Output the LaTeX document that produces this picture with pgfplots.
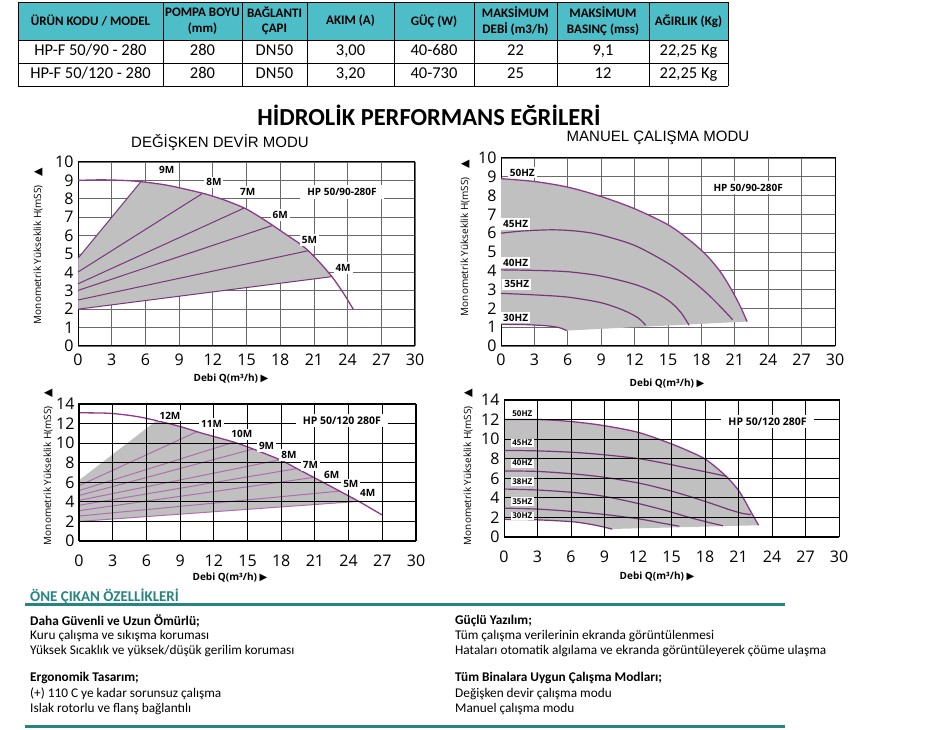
\documentclass[border=0pt]{standalone}
\usepackage{fontspec}
\setmainfont{Carlito}
\newfontfamily\os{Open Sans}
\newfontfamily\dv{DejaVu Sans}
\newfontfamily\ls{Liberation Sans}
\usepackage{pgfplots}
\pgfplotsset{compat=1.18}
\definecolor{hdr}{RGB}{77,190,200}
\definecolor{teal2}{RGB}{38,132,130}
\definecolor{pcurve}{RGB}{140,58,140}
\definecolor{pline}{RGB}{120,55,120}
\definecolor{plight}{RGB}{175,110,175}
\definecolor{gfill}{RGB}{192,192,192}
\definecolor{gridc}{RGB}{105,105,105}
\pgfplotsset{
  base/.style={scale only axis, clip=false, xmin=0, xmax=30, xtick={0,3,...,30},
    grid=major, major tick length=0pt,
    /pgf/number format/assume math mode=true,
    tick label style={font=\os\fontsize{16}{16}\selectfont, text height=11.5pt, text depth=0pt},
    yticklabel style={xshift=-1pt},
    axis line style={line width=1pt}},
  topp/.style={base, ymin=0, ymax=10, ytick={0,...,10}, xticklabel style={yshift=-4pt}, major grid style={gridc, line width=0.7pt}},
  botp/.style={base, ymin=0, ymax=14, ytick={0,2,...,14}, xticklabel style={yshift=-10pt}, axis on top, major grid style={black, line width=0.9pt}},
}
\tikzset{
  lab/.style={fill=white, inner sep=2pt, font=\os\bfseries\fontsize{10}{10}\selectfont},
  labs/.style={fill=white, inner sep=1.5pt, font=\os\bfseries\fontsize{8}{8}\selectfont},
  hp/.style={fill=white, inner xsep=7pt, inner ysep=3pt, font=\os\bfseries\fontsize{10.5}{10.5}\selectfont},
  ylab/.style={rotate=90, font=\os\fontsize{10}{10}\selectfont},
  xlab/.style={font=\os\bfseries\fontsize{10}{10}\selectfont},
  th/.style={align=center, font=\bfseries\fontsize{13}{15.5}\selectfont},
  tb/.style={font=\fontsize{16.5}{16.5}\selectfont, text height=11pt, text depth=3pt},
  ft/.style={anchor=west, font=\fontsize{13.3}{13.3}\selectfont, inner sep=0pt},
  fb/.style={anchor=west, font=\bfseries\fontsize{13.3}{13.3}\selectfont, inner sep=0pt},
}
\newcommand{\ytext}{Monometrik Yükseklik H(mSS)\hspace{9pt}{\dv\fontsize{11}{11}\selectfont ▲}}
\newcommand{\xtext}{Debi Q(m³/h) {\dv ▶}}
\begin{document}
\begin{tikzpicture}[x=1pt,y=1pt]
\useasboundingbox (0,0) rectangle (938,729);
\fill[white] (0,0) rectangle (938,729);
% ---------- table ----------
\fill[hdr] (18,689) rectangle (728,727);
\foreach \x in {18,163,242,307,394,474,557,649,728} \draw[line width=0.8pt] (\x,643) -- (\x,727);
\foreach \y in {727,689,666,643} \draw[line width=0.8pt] (18,\y) -- (728,\y);
\node[th] at (90.5,708) {ÜRÜN KODU / MODEL};
\node[th] at (202.5,708) {POMPA BOYU\\(mm)};
\node[th] at (274.5,708) {BAĞLANTI\\ÇAPI};
\node[th] at (350.5,708) {AKIM (A)};
\node[th] at (434,708) {GÜÇ (W)};
\node[th] at (515.5,708) {MAKSİMUM\\DEBİ (m3/h)};
\node[th] at (603,708) {MAKSİMUM\\BASINÇ (mss)};
\node[th] at (688.5,708) {AĞIRLIK (Kg)};
\node[tb] at (90.5,677.5) {HP-F 50/90 - 280};
\node[tb] at (202.5,677.5) {280};
\node[tb] at (274.5,677.5) {DN50};
\node[tb] at (350.5,677.5) {3,00};
\node[tb] at (434,677.5) {40-680};
\node[tb] at (515.5,677.5) {22};
\node[tb] at (603,677.5) {9,1};
\node[tb] at (688.5,677.5) {22,25 Kg};
\node[tb] at (90.5,654.5) {HP-F 50/120 - 280};
\node[tb] at (202.5,654.5) {280};
\node[tb] at (274.5,654.5) {DN50};
\node[tb] at (350.5,654.5) {3,20};
\node[tb] at (434,654.5) {40-730};
\node[tb] at (515.5,654.5) {25};
\node[tb] at (603,654.5) {12};
\node[tb] at (688.5,654.5) {22,25 Kg};
% ---------- titles ----------
\node[font=\bfseries\fontsize{24.5}{24.5}\selectfont] at (429,614) {HİDROLİK PERFORMANS EĞRİLERİ};
\node[font=\ls\fontsize{15}{15}\selectfont] at (220,586) {DEĞİŞKEN DEVİR MODU};
\node[font=\ls\fontsize{15}{15}\selectfont] at (658,591) {MANUEL ÇALIŞMA MODU};
% ---------- plot 1 ----------
\begin{axis}[topp, at={(78pt,383pt)}, anchor=south west, width=337pt, height=184pt]
\addplot[fill=gfill, draw=none] coordinates {(0,2.0) (0,4.77) (5.6,8.93) (8,8.73) (11.1,8.30) (13,7.94) (14.8,7.50) (16,7.08) (17.3,6.57) (18.5,6.07) (19.6,5.62) (20.5,5.18) (21.5,4.55) (22.6,3.77)} -- cycle;
\addplot[gfill!70!pline, line width=0.8pt] coordinates {(0,2.0) (0,4.77)};
\addplot[pline, line width=1pt] coordinates {(0,4.77) (5.6,8.93)};
\addplot[pline, line width=1pt] coordinates {(0,4.02) (11.1,8.30)};
\addplot[pline, line width=1pt] coordinates {(0,3.38) (14.8,7.50)};
\addplot[pline, line width=1pt] coordinates {(0,3.02) (17.3,6.55)};
\addplot[pline, line width=1pt] coordinates {(0,2.50) (20.5,5.18)};
\addplot[pline, line width=1pt] coordinates {(0,2.00) (22.6,3.77)};
\addplot[pcurve, line width=1.3pt, smooth] coordinates {(0,9.00) (2,9.03) (4,9.00) (5.6,8.93) (8,8.73) (11.1,8.30) (13,7.94) (14.8,7.50) (16,7.08) (17.3,6.57) (18.5,6.07) (19.6,5.62) (20.5,5.18) (21.5,4.55) (22.6,3.77) (23.6,2.90) (24.5,2.00)};
\coordinate (a1) at (axis cs:7.9,9.57);
\coordinate (a2) at (axis cs:12.1,8.9);
\coordinate (a3) at (axis cs:15.1,8.37);
\coordinate (a4) at (axis cs:18.0,7.12);
\coordinate (a5) at (axis cs:20.6,5.76);
\coordinate (a6) at (axis cs:23.6,4.24);
\coordinate (a7) at (axis cs:23.5,8.37);
\end{axis}
\node[lab] at (a1) {9M};
\node[lab] at (a2) {8M};
\node[lab] at (a3) {7M};
\node[lab] at (a4) {6M};
\node[lab] at (a5) {5M};
\node[lab] at (a6) {4M};
\node[hp,font=\os\bfseries\fontsize{10}{10}\selectfont] at (a7) {HP 50/90-280F};
\node[ylab] at (38,483) {\ytext};
\node[xlab] at (231,350) {\xtext};
% ---------- plot 2 ----------
\begin{axis}[topp, at={(501pt,383pt)}, anchor=south west, width=334pt, height=188pt]
\addplot[fill=gfill, draw=none] coordinates {(0,1.15) (0,8.9) (3,8.75) (6,8.45) (9,7.95) (12,7.3) (15,6.45) (17,5.6) (18.5,4.8) (19.7,3.95) (20.7,3.0) (21.5,2.1) (22.1,1.3) (5.9,0.82) (5.2,0.98) (4,1.08) (2,1.14)} -- cycle;
\addplot[pcurve, line width=1.3pt, smooth] coordinates {(0,8.9) (3,8.75) (6,8.45) (9,7.95) (12,7.3) (15,6.45) (17,5.6) (18.5,4.8) (19.7,3.95) (20.7,3.0) (21.5,2.1) (22.1,1.3)};
\addplot[pline, line width=1.2pt, smooth] coordinates {(0,6.0) (2,6.12) (4.7,6.18) (7,6.1) (9,5.9) (12,5.35) (15,4.4) (17,3.55) (18.5,2.8) (19.7,2.1) (20.8,1.4)};
\addplot[pline, line width=1.2pt, smooth] coordinates {(0,4.05) (3,4.02) (6,3.95) (9,3.72) (12,3.28) (14,2.8) (15.3,2.3) (16.2,1.75) (16.9,1.1)};
\addplot[pline, line width=1.2pt, smooth] coordinates {(0,2.8) (3,2.72) (6,2.6) (9,2.3) (11,1.9) (12.3,1.5) (13.0,1.1)};
\addplot[pline, line width=1.2pt, smooth] coordinates {(0,1.15) (2,1.14) (4,1.08) (5.2,0.98) (5.9,0.82)};
\coordinate (b1) at (axis cs:0.6,9.22);
\coordinate (b2) at (axis cs:0,6.49);
\coordinate (b3) at (axis cs:0,4.43);
\coordinate (b4) at (axis cs:0.1,3.28);
\coordinate (b5) at (axis cs:0,1.5);
\coordinate (b7) at (axis cs:22.2,8.42);
\end{axis}
\node[lab,anchor=west] at (b1) {50HZ};
\node[lab,anchor=west] at (b2) {45HZ};
\node[lab,anchor=west] at (b3) {40HZ};
\node[lab,anchor=west] at (b4) {35HZ};
\node[lab,anchor=west] at (b5) {30HZ};
\node[hp,font=\os\bfseries\fontsize{10}{10}\selectfont] at (b7) {HP 50/90-280F};
\node[ylab] at (465,491) {\ytext};
\node[xlab] at (667,345) {\xtext};
% ---------- plot 3 ----------
\begin{axis}[botp, at={(79pt,188pt)}, anchor=south west, width=337pt, height=137pt]
\addplot[fill=gfill, draw=none] coordinates {(0,2.0) (0,6.2) (6.9,12.3) (9,11.7) (11,11.0) (13.8,10.1) (15.5,9.4) (17.9,8.3) (19.4,7.4) (20.9,6.5) (23.2,5.1) (24.9,4.05)} -- cycle;
\addplot[plight, line width=1pt] coordinates {(0,5.65) (10.5,11.17)};
\addplot[plight, line width=1pt] coordinates {(0,5.15) (13.8,10.1)};
\addplot[plight, line width=1pt] coordinates {(0,4.65) (15.5,9.4)};
\addplot[plight, line width=1pt] coordinates {(0,4.15) (17.9,8.3)};
\addplot[plight, line width=1pt] coordinates {(0,3.65) (19.4,7.4)};
\addplot[plight, line width=1pt] coordinates {(0,3.10) (20.9,6.5)};
\addplot[plight, line width=1pt] coordinates {(0,2.55) (23.2,5.1)};
\addplot[plight, line width=1pt] coordinates {(0,2.0) (24.9,4.05)};
\addplot[pcurve, line width=1.3pt, smooth] coordinates {(0,13.1) (2.7,13.05) (5,12.75) (6.9,12.3) (9,11.7) (11,11.0) (13.8,10.1) (15.5,9.4) (17.9,8.3) (19.4,7.4) (20.9,6.5) (23.2,5.1) (24.9,4.05) (27.0,2.65)};
\coordinate (c1) at (axis cs:8.1,12.8);
\coordinate (c2) at (axis cs:11.8,12.0);
\coordinate (c3) at (axis cs:14.5,10.9);
\coordinate (c4) at (axis cs:16.7,9.7);
\coordinate (c5) at (axis cs:18.7,8.8);
\coordinate (c6) at (axis cs:20.6,7.75);
\coordinate (c7) at (axis cs:22.5,6.7);
\coordinate (c8) at (axis cs:24.2,5.8);
\coordinate (c9) at (axis cs:25.7,4.95);
\coordinate (c10) at (axis cs:23.4,12.3);
\end{axis}
\node[lab] at (c1) {12M};
\node[lab] at (c2) {11M};
\node[lab] at (c3) {10M};
\node[lab] at (c4) {9M};
\node[lab] at (c5) {8M};
\node[lab] at (c6) {7M};
\node[lab] at (c7) {6M};
\node[lab] at (c8) {5M};
\node[lab] at (c9) {4M};
\node[hp] at (c10) {HP 50/120 280F};
\node[ylab] at (48,262) {\ytext};
\node[xlab] at (230,151) {\xtext};
% ---------- plot 4 ----------
\begin{axis}[botp, at={(504pt,192pt)}, anchor=south west, width=335pt, height=137pt]
\addplot[fill=gfill, draw=none] coordinates {(0,1.8) (0,12.0) (3.2,12.0) (6,11.8) (8.85,11.4) (12,10.7) (14.8,9.6) (16.5,8.8) (18.1,7.9) (19.9,6.2) (21.1,4.6) (22.1,2.6) (22.8,1.2) (9.7,0.82) (8.2,1.2) (6.2,1.55) (3,1.75)} -- cycle;
\addplot[pcurve, line width=1.3pt, smooth] coordinates {(0,12.0) (3.2,12.0) (6,11.8) (8.85,11.4) (12,10.7) (14.8,9.6) (16.5,8.8) (18.1,7.9) (19.9,6.2) (21.1,4.6) (22.1,2.6) (22.8,1.2)};
\addplot[pline, line width=1.2pt, smooth] coordinates {(0,8.85) (3,8.8) (6.2,8.65) (9,8.4) (12.1,8.0) (14.5,7.5) (16.6,7.0) (18.5,6.55) (19.9,6.2)};
\addplot[pline, line width=1.2pt, smooth] coordinates {(0,6.75) (3,6.7) (6.2,6.45) (9,6.1) (12.1,5.5) (14.5,4.85) (16.6,4.15) (18.5,3.45) (20.3,2.75) (21.4,2.4) (22.1,2.3)};
\addplot[pline, line width=1.2pt, smooth] coordinates {(0,4.9) (3,4.8) (6.2,4.55) (9,4.15) (12.1,3.4) (14.5,2.7) (16.6,2.0) (18.3,1.5) (19.6,1.15)};
\addplot[pline, line width=1.2pt, smooth] coordinates {(0,2.95) (3,2.85) (6.2,2.6) (9,2.3) (12.1,1.85) (14,1.45) (15.7,1.1)};
\addplot[pline, line width=1.2pt, smooth] coordinates {(0,1.8) (3,1.75) (6.2,1.55) (8.2,1.2) (9.7,0.8)};
\coordinate (d1) at (axis cs:0.6,12.57);
\coordinate (d2) at (axis cs:0.6,9.6);
\coordinate (d3) at (axis cs:0.6,7.55);
\coordinate (d4) at (axis cs:0.6,5.67);
\coordinate (d5) at (axis cs:0.6,3.62);
\coordinate (d6) at (axis cs:0.6,2.15);
\coordinate (d7) at (axis cs:23.6,11.8);
\end{axis}
\node[labs,anchor=west] at (d1) {50HZ};
\node[labs,anchor=west] at (d2) {45HZ};
\node[labs,anchor=west] at (d3) {40HZ};
\node[labs,anchor=west] at (d4) {38HZ};
\node[labs,anchor=west] at (d5) {35HZ};
\node[labs,anchor=west] at (d6) {30HZ};
\node[hp] at (d7) {HP 50/120 280F};
\node[ylab] at (468,262) {\ytext};
\node[xlab] at (657,152) {\xtext};
% ---------- features ----------
\node[anchor=west, inner sep=0pt, text=teal2, font=\bfseries\fontsize{15}{15}\selectfont] at (30,133) {ÖNE ÇIKAN ÖZELLİKLERİ};
\draw[teal2, line width=3pt] (25,124) -- (785,124);
\draw[teal2, line width=3pt] (25,2.5) -- (785,2.5);
\node[fb] at (30,108) {Daha Güvenli ve Uzun Ömürlü;};
\node[ft] at (30,93) {Kuru çalışma ve sıkışma koruması};
\node[ft] at (30,78) {Yüksek Sıcaklık ve yüksek/düşük gerilim koruması};
\node[fb] at (30,51) {Ergonomik Tasarım;};
\node[ft] at (30,35) {(+) 110 C ye kadar sorunsuz çalışma};
\node[ft] at (30,20) {Islak rotorlu ve flanş bağlantılı};
\node[fb] at (455,108) {Güçlü Yazılım;};
\node[ft] at (455,93) {Tüm çalışma verilerinin ekranda görüntülenmesi};
\node[ft] at (455,78) {Hataları otomatik algılama ve ekranda görüntüleyerek çöüme ulaşma};
\node[fb] at (455,51) {Tüm Binalara Uygun Çalışma Modları;};
\node[ft] at (455,35) {Değişken devir çalışma modu};
\node[ft] at (455,20) {Manuel çalışma modu};
\end{tikzpicture}
\end{document}
